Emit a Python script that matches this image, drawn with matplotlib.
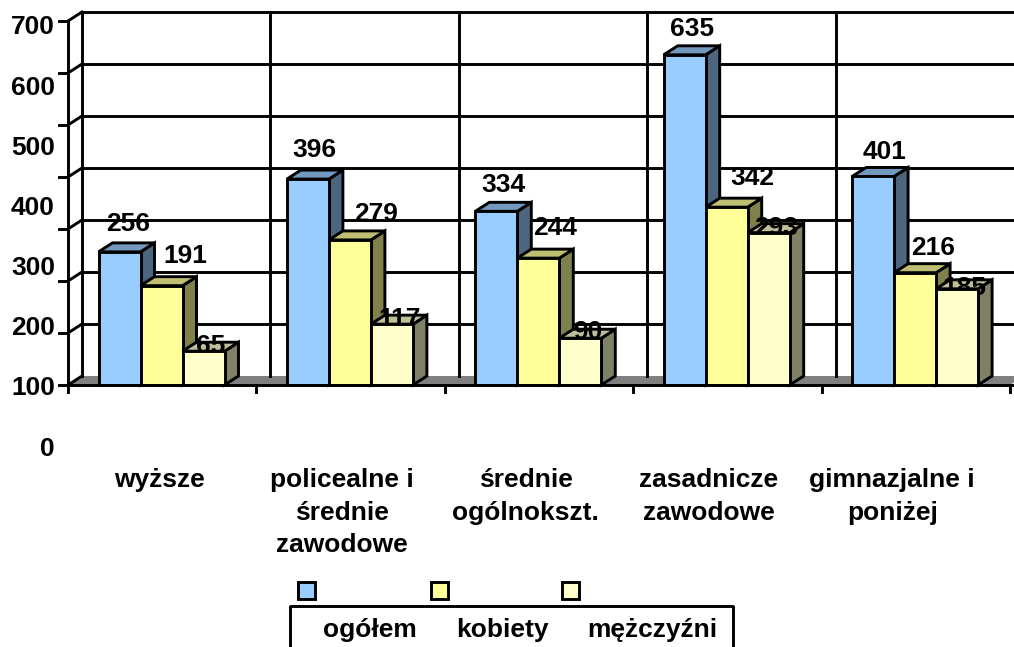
import matplotlib.pyplot as plt
from matplotlib.patches import Polygon, Rectangle

plt.rcParams['font.family'] = ['Liberation Sans', 'DejaVu Sans']
plt.rcParams['font.weight'] = 'bold'

categories = ['wyższe', 'policealne i\nśrednie\nzawodowe', 'średnie\nogólnokszt.',
              'zasadnicze\nzawodowe', 'gimnazjalne i\nponiżej']
series_names = ['ogółem', 'kobiety', 'mężczyźni']
ogolem = [256, 396, 334, 635, 401]
kobiety = [191, 279, 244, 342, 216]
mezczyzni = [65, 117, 90, 293, 185]
y_ticks = [0, 100, 200, 300, 400, 500, 600, 700]

# kolory: front, gora, bok
colors = [('#99CCFF', '#7399BF', '#4D6680'),
          ('#FFFF99', '#BFBF73', '#80804D'),
          ('#FFFFCC', '#BFBF99', '#808066')]

# przesuniecia etykiet wzgledem srodka gory slupka (piksele)
label_off = [[(9, 28), (7, 29), (7, 26), (7, 26), (11, 24)],
             [(24, 30), (26, 26), (17, 30), (26, 29), (18, 25)],
             [(7, 5), (8, 5), (7, 6), (7, 5), (7, 1)]]

W, H = 1014, 647
fig = plt.figure(figsize=(W / 100, H / 100), dpi=100)
ax = fig.add_axes([68 / W, (H - 385) / H, 942 / W, 364 / H])
ax.set_xlim(0, 5)
ax.set_ylim(0, 700)
ax.axis('off')

LW = 2.1
FS = 19
DX = 14 / (942 / 5)    # glebokosc 3D w jednostkach danych
DY = 9 / (364 / 700)
BW = 42 / (942 / 5)
START = 30.5 / (942 / 5)


def line(xs, ys, z=1):
    ax.plot(xs, ys, color='black', lw=LW, clip_on=False, zorder=z, solid_capstyle='projecting')


# podloga
ax.add_patch(Polygon([(0, 0), (5, 0), (5 + DX, DY), (DX, DY)], facecolor='#808080',
                     edgecolor='none', clip_on=False, zorder=0))

# siatka i os
for t in y_ticks:
    if t > 0:
        line([DX, 5.2], [t + DY, t + DY])
    line([0, DX], [t, t + DY])
    line([-9 / (942 / 5), 0], [t, t])
for i in range(6):
    line([i + DX, i + DX], [DY, 700 + DY])
    line([i, i], [-7 / (364 / 700), 0])
line([0, 0], [0, 700])
line([0, 5.2], [0, 0], z=50)

# slupki
for s, vals in enumerate([ogolem, kobiety, mezczyzni]):
    front, top, side = colors[s]
    for i, v in enumerate(vals):
        x0 = i + START + s * BW
        x1 = x0 + BW
        z = 10 + i * 10 + s * 3
        ax.add_patch(Polygon([(x1, 0), (x1 + DX, DY), (x1 + DX, v + DY), (x1, v)], facecolor=side,
                             edgecolor='black', lw=LW, clip_on=False, zorder=z))
        ax.add_patch(Polygon([(x0, v), (x0 + DX, v + DY), (x1 + DX, v + DY), (x1, v)], facecolor=top,
                             edgecolor='black', lw=LW, clip_on=False, zorder=z))
        ox, oy = label_off[s][i]
        ax.annotate(str(v), xy=((x0 + x1) / 2, v), xytext=(ox * 0.72, oy * 0.72),
                    textcoords='offset points', ha='center', va='center', fontsize=FS,
                    zorder=z + 1, annotation_clip=False)
        ax.add_patch(Rectangle((x0, 0), BW, v, facecolor=front, edgecolor='black', lw=LW,
                               clip_on=False, zorder=z + 2))

# opisy osi sa przesuniete wzgledem podzialki, wiec osobne osie
lab = fig.add_axes([67.4 / W, (H - 446) / H, 916.5 / W, 421 / H])
lab.set_xlim(0, 5)
lab.set_ylim(0, 700)
lab.patch.set_visible(False)
for sp in lab.spines.values():
    sp.set_visible(False)
lab.set_yticks(y_ticks)
lab.set_yticklabels([str(t) for t in y_ticks], fontsize=FS)
lab.set_xticks([i + 0.5 for i in range(5)])
lab.set_xticklabels(categories, fontsize=FS, linespacing=1.45)
lab.tick_params(axis='both', length=0)
lab.tick_params(axis='y', pad=9)
lab.tick_params(axis='x', pad=16)

# legenda
leg = fig.add_axes([0, 0, 1, 1])
leg.set_xlim(0, W)
leg.set_ylim(H, 0)
leg.axis('off')
leg.plot([290, 290, 733, 733], [H + 5, 606, 606, H + 5], color='black', lw=LW)
for name, c, sx, tx in zip(series_names, colors, [298, 431, 562], [370, 502, 652]):
    leg.add_patch(Rectangle((sx, 582), 17, 17, facecolor=c[0], edgecolor='black', lw=LW))
    leg.text(tx, 630, name, ha='center', va='center', fontsize=FS)

fig.savefig('out.png', dpi=100)
